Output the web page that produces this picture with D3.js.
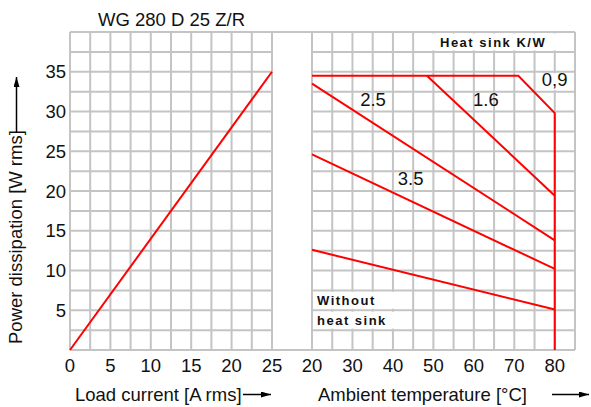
<!DOCTYPE html>
<html><head><meta charset="utf-8">
<script src="https://cdn.jsdelivr.net/npm/d3@7"></script>
<style>
html,body{margin:0;padding:0;background:#fff;}
svg{display:block;font-family:"Liberation Sans",Arial,Helvetica,sans-serif;}
</style></head>
<body>
<script>
// ---- data ----
const title = "WG 280 D 25 Z/R";
const leftXTicks = [0, 5, 10, 15, 20, 25];
const rightXTicks = [20, 30, 40, 50, 60, 70, 80];
const yTicks = [5, 10, 15, 20, 25, 30, 35];
// load current [A rms] vs power [W]
const loadCurve = [[0, 0], [25, 35]];
// ambient temperature [°C] vs power [W], per heat sink (K/W)
const sink09 = [[20, 34.5], [71, 34.5], [80, 29.8], [80, 0]];
const sink16 = [[48.4, 34.5], [80, 19.4]];
const sink25 = [[20, 33.5], [80, 13.8]];
const sink35 = [[20, 24.6], [80, 10.2]];
const noSink = [[20, 12.6], [80, 5.1]];
const curveLabels = ["0,9", "1.6", "2.5", "3.5"];

const W = 591, H = 407;
const svg = d3.select("body").append("svg").attr("width", W).attr("height", H);

const xL = d3.scaleLinear().domain([0, 25]).range([70, 272]);
const xR = d3.scaleLinear().domain([20, 85]).range([312, 575]);
const y = d3.scaleLinear().domain([0, 40]).range([350, 32]);

const gridColor = "#c4c4c4";
const grid = svg.append("g").attr("stroke", gridColor).attr("stroke-width", 2).attr("fill", "none");

const yGrid = d3.range(0, 40.01, 2.5);
// left panel grid
grid.selectAll(".lv").data(d3.range(0, 25.01, 2.5)).join("line")
  .attr("x1", d => xL(d)).attr("x2", d => xL(d)).attr("y1", y(0)).attr("y2", y(40));
grid.selectAll(".lh").data(yGrid).join("line")
  .attr("x1", xL(0)).attr("x2", xL(25)).attr("y1", d => y(d)).attr("y2", d => y(d));
// right panel grid
grid.selectAll(".rv").data(d3.range(20, 85.01, 5)).join("line")
  .attr("x1", d => xR(d)).attr("x2", d => xR(d)).attr("y1", y(0)).attr("y2", y(40));
grid.selectAll(".rh").data(yGrid).join("line")
  .attr("x1", xR(20)).attr("x2", xR(85)).attr("y1", d => y(d)).attr("y2", d => y(d));
// top and bottom borders across the gap
grid.append("line").attr("x1", xL(0)).attr("x2", xR(85)).attr("y1", y(40)).attr("y2", y(40));
grid.append("line").attr("x1", xL(0)).attr("x2", xR(85)).attr("y1", y(0)).attr("y2", y(0));

// white label boxes (hide vertical grid inside)
const boxes = svg.append("g").attr("fill", "#fff");
boxes.append("rect").attr("x", xR(45) + 1.5).attr("y", y(40) + 1.5)
  .attr("width", xR(85) - xR(45) - 3).attr("height", y(37.5) - y(40) - 3);
boxes.append("rect").attr("x", xR(75) + 1.5).attr("y", y(35) + 1.5)
  .attr("width", xR(85) - xR(75) - 3).attr("height", y(32.5) - y(35) - 3);
boxes.append("rect").attr("x", xR(20) + 1.5).attr("y", y(7.5) + 1.5)
  .attr("width", xR(45) - xR(20) - 3).attr("height", y(5) - y(7.5) - 3);
boxes.append("rect").attr("x", xR(20) + 1.5).attr("y", y(5) + 1.5)
  .attr("width", xR(45) - xR(20) - 3).attr("height", y(2.5) - y(5) - 3);

// curves
const red = "#ff0000";
const lineL = d3.line().x(d => xL(d[0])).y(d => y(d[1]));
const lineR = d3.line().x(d => xR(d[0])).y(d => y(d[1]));
const curves = svg.append("g").attr("fill", "none").attr("stroke", red).attr("stroke-width", 2);
curves.append("path").attr("d", lineL(loadCurve));
[sink09, sink16, sink25, sink35, noSink].forEach(s => curves.append("path").attr("d", lineR(s)));

// text
const fs = 18.5;
const txt = svg.append("g").attr("fill", "#111").attr("font-size", fs);
txt.append("text").attr("x", 98).attr("y", 26).text(title);

txt.selectAll(".yt").data(yTicks).join("text")
  .attr("x", 66).attr("y", d => y(d) + 6.5).attr("text-anchor", "end").text(d => d);
txt.selectAll(".xl").data(leftXTicks).join("text")
  .attr("x", d => xL(d)).attr("y", 372).attr("text-anchor", "middle").text(d => d);
txt.selectAll(".xr").data(rightXTicks).join("text")
  .attr("x", d => xR(d)).attr("y", 372).attr("text-anchor", "middle").text(d => d);

txt.append("text").attr("x", 75).attr("y", 401).text("Load current [A rms]");
txt.append("text").attr("x", 318).attr("y", 401).text("Ambient temperature [°C]");
txt.append("text").attr("transform", "translate(22,344) rotate(-90)").text("Power dissipation [W rms]");

// curve labels (label anchor in data units)
const labelPos = [[76.8, 33.2], [59.8, 30.7], [31.9, 30.7], [41.2, 20.8]];
txt.selectAll(".cl").data(curveLabels).join("text")
  .attr("x", (d, i) => xR(labelPos[i][0])).attr("y", (d, i) => y(labelPos[i][1]))
  .text(d => d);

const bold = svg.append("g").attr("fill", "#111").attr("font-size", 13)
  .attr("font-weight", "bold").attr("letter-spacing", 1.5);
bold.append("text").attr("x", 440).attr("y", 47).text("Heat sink K/W");
bold.append("text").attr("x", 317).attr("y", 305).text("Without");
bold.append("text").attr("x", 317).attr("y", 325).text("heat sink");

// arrows
const defs = svg.append("defs");
defs.append("marker").attr("id", "ah").attr("viewBox", "0 0 10 6")
  .attr("refX", 10).attr("refY", 3).attr("markerWidth", 10).attr("markerHeight", 6)
  .attr("markerUnits", "userSpaceOnUse").attr("orient", "auto")
  .append("path").attr("d", "M0,0 L10,3 L0,6 Z").attr("fill", "#000");
const arr = svg.append("g").attr("stroke", "#000").attr("stroke-width", 1.5);
arr.append("line").attr("x1", 16.5).attr("y1", 133).attr("x2", 16.5).attr("y2", 77).attr("marker-end", "url(#ah)");
arr.append("line").attr("x1", 243).attr("y1", 394.5).attr("x2", 271).attr("y2", 394.5).attr("marker-end", "url(#ah)");
arr.append("line").attr("x1", 552).attr("y1", 394.5).attr("x2", 589).attr("y2", 394.5).attr("marker-end", "url(#ah)");
</script>
</body></html>
